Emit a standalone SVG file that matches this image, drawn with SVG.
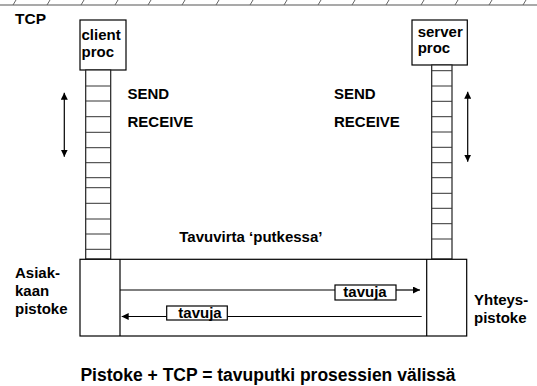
<svg xmlns="http://www.w3.org/2000/svg" width="537" height="386" viewBox="0 0 537 386">
<defs>
<marker id="ah" viewBox="0 0 10 10" refX="10" refY="5" markerWidth="7" markerHeight="7" markerUnits="userSpaceOnUse" orient="auto-start-reverse"><path d="M0,0 L10,5 L0,10 z" fill="#000"/></marker>
</defs>
<style>
text{font-family:"Liberation Sans",Arial,sans-serif;font-weight:bold;fill:#000}
.t15{font-size:15px}
.box{fill:#fff;stroke:#000;stroke-width:1.2}
.tube{fill:#fff;stroke:#222;stroke-width:1.2}
.row{stroke:#333;stroke-width:1}
.ln{stroke:#000;stroke-width:1.2;fill:none}
.hatch{stroke:#666;stroke-width:1}
</style>
<rect width="537" height="386" fill="#fff"/>
<g id="header">
<line x1="0" y1="5" x2="537" y2="5" stroke="#555" stroke-width="1.2"/>
<g class="hatch">
<line x1="13" y1="5" x2="16" y2="0"/><line x1="47" y1="5" x2="50" y2="0"/><line x1="81" y1="5" x2="84" y2="0"/><line x1="115" y1="5" x2="118" y2="0"/><line x1="148" y1="5" x2="151" y2="0"/><line x1="182" y1="5" x2="185" y2="0"/><line x1="216" y1="5" x2="219" y2="0"/><line x1="250" y1="5" x2="253" y2="0"/><line x1="284" y1="5" x2="287" y2="0"/><line x1="318" y1="5" x2="321" y2="0"/><line x1="352" y1="5" x2="355" y2="0"/><line x1="386" y1="5" x2="389" y2="0"/><line x1="421" y1="5" x2="424" y2="0"/><line x1="455" y1="5" x2="458" y2="0"/><line x1="489" y1="5" x2="492" y2="0"/><line x1="523" y1="5" x2="526" y2="0"/>
</g>
<text x="15" y="24" font-size="15.5">TCP</text>
</g>
<g id="client-proc">
<rect class="box" x="80" y="20" width="46" height="50"/>
<text class="t15" x="81.5" y="40">client</text>
<text class="t15" x="81.5" y="57">proc</text>
</g>
<g id="client-buffer">
<rect class="tube" x="85.7" y="70" width="25" height="189"/>
<g class="row">
<line x1="85.7" y1="86" x2="110.7" y2="86"/><line x1="85.7" y1="101" x2="110.7" y2="101"/><line x1="85.7" y1="116.7" x2="110.7" y2="116.7"/><line x1="85.7" y1="132.3" x2="110.7" y2="132.3"/><line x1="85.7" y1="147.7" x2="110.7" y2="147.7"/><line x1="85.7" y1="162.7" x2="110.7" y2="162.7"/><line x1="85.7" y1="177.7" x2="110.7" y2="177.7"/><line x1="85.7" y1="187.7" x2="110.7" y2="187.7"/><line x1="85.7" y1="203.3" x2="110.7" y2="203.3"/><line x1="85.7" y1="219" x2="110.7" y2="219"/><line x1="85.7" y1="234" x2="110.7" y2="234"/><line x1="85.7" y1="249.3" x2="110.7" y2="249.3"/>
</g>
</g>
<g id="client-labels">
<text class="t15" x="127.5" y="99">SEND</text>
<text class="t15" x="127.5" y="126.7">RECEIVE</text>
</g>
<g id="server-proc">
<rect class="box" x="412" y="20" width="55.3" height="45"/>
<text class="t15" x="417.7" y="36.7">server</text>
<text class="t15" x="417.7" y="53">proc</text>
</g>
<g id="server-buffer">
<rect class="tube" x="431.7" y="65" width="20.3" height="194"/>
<g class="row">
<line x1="431.7" y1="70.7" x2="452" y2="70.7"/><line x1="431.7" y1="86" x2="452" y2="86"/><line x1="431.7" y1="101.3" x2="452" y2="101.3"/><line x1="431.7" y1="116.7" x2="452" y2="116.7"/><line x1="431.7" y1="132" x2="452" y2="132"/><line x1="431.7" y1="147.3" x2="452" y2="147.3"/><line x1="431.7" y1="162.7" x2="452" y2="162.7"/><line x1="431.7" y1="177.7" x2="452" y2="177.7"/><line x1="431.7" y1="193.3" x2="452" y2="193.3"/><line x1="431.7" y1="208.3" x2="452" y2="208.3"/><line x1="431.7" y1="223.7" x2="452" y2="223.7"/><line x1="431.7" y1="239" x2="452" y2="239"/>
</g>
</g>
<g id="server-labels">
<text class="t15" x="334" y="99">SEND</text>
<text class="t15" x="334" y="126.7">RECEIVE</text>
</g>
<g id="pipe">
<rect class="box" x="80" y="259.3" width="386.7" height="76.7"/>
<line class="ln" x1="120" y1="259.3" x2="120" y2="336"/>
<line class="ln" x1="426.7" y1="259.3" x2="426.7" y2="336"/>
<text class="t15" x="179.3" y="242.3">Tavuvirta ‘putkessa’</text>
</g>
<g id="client-socket-label">
<text class="t15" x="15" y="278.3">Asiak-</text>
<text class="t15" x="15" y="296">kaan</text>
<text class="t15" x="15" y="313.5">pistoke</text>
</g>
<g id="server-socket-label">
<text class="t15" x="474" y="305">Yhteys-</text>
<text class="t15" x="474" y="322.7">pistoke</text>
</g>
<g id="connectors">
<line class="ln" x1="64.3" y1="92.7" x2="64.3" y2="156.7" marker-start="url(#ah)" marker-end="url(#ah)"/>
<line class="ln" x1="467.7" y1="91.7" x2="467.7" y2="161.7" marker-start="url(#ah)" marker-end="url(#ah)"/>
<line class="ln" x1="120" y1="290" x2="335" y2="290"/>
<line class="ln" x1="396" y1="290" x2="420" y2="290" marker-end="url(#ah)"/>
<line class="ln" x1="421.7" y1="316.5" x2="227.3" y2="316.5"/>
<line class="ln" x1="166.7" y1="316.5" x2="121.7" y2="316.5" marker-end="url(#ah)"/>
</g>
<g id="tavuja-right">
<rect class="box" x="335" y="285" width="61" height="15"/>
<text class="t15" x="343.3" y="297">tavuja</text>
</g>
<g id="tavuja-left">
<rect class="box" x="166.7" y="306" width="60.6" height="14"/>
<text class="t15" x="178.3" y="317.7">tavuja</text>
</g>
<g id="title">
<text x="268" y="381" font-size="17.5" text-anchor="middle">Pistoke + TCP = tavuputki prosessien välissä</text>
</g>
</svg>
